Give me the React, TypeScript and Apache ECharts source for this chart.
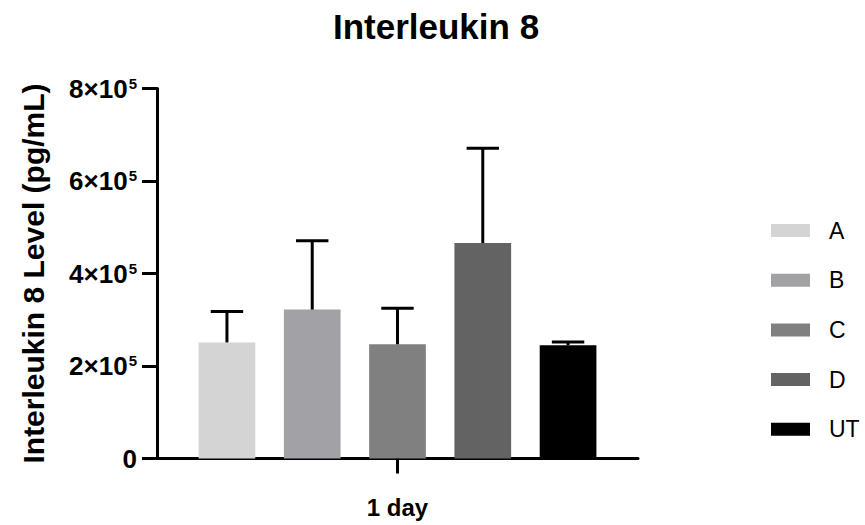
import React, { useEffect, useRef } from "react";
import * as echarts from "echarts";

const CATEGORIES = ["1 day"];
const SERIES_NAMES = ["A", "B", "C", "D", "UT"];
const MEANS = [251000, 322000, 247000, 466000, 245000];
const UPPER = [318000, 471000, 325000, 671000, 252000];
const COLORS = ["#d4d4d4", "#a2a1a5", "#808080", "#636363", "#000000"];
const Y_TICK_VALUES = [0, 200000, 400000, 600000, 800000];
const Y_TICK_LABELS = ["0", "2×10^5", "4×10^5", "6×10^5", "8×10^5"];

const FONT = "'Liberation Sans', Arial, Helvetica, sans-serif";
const BAR_WIDTH = 56.7;
const BAR_GAP = 0.504;

export default function App() {
  const ref = useRef<HTMLDivElement>(null);
  useEffect(() => {
    document.body.style.margin = "0";
    if (!ref.current) return;
    const chart = echarts.init(ref.current, null, { renderer: "svg" });
    const step = BAR_WIDTH * (1 + BAR_GAP);
    const mid = (SERIES_NAMES.length - 1) / 2;

    const barSeries = SERIES_NAMES.map((name, i) => ({
      name,
      type: "bar",
      data: [MEANS[i]],
      barWidth: BAR_WIDTH,
      barGap: `${BAR_GAP * 100}%`,
      itemStyle: { color: COLORS[i] },
      z: 2,
    }));

    const errData = SERIES_NAMES.map((_, i) => [0, UPPER[i], MEANS[i], i]);

    const option: any = {
      animation: false,
      textStyle: { fontFamily: FONT },
      title: {
        text: "Interleukin 8",
        left: 436,
        top: 9,
        padding: 0,
        textAlign: "center",
        textStyle: { fontFamily: FONT, fontSize: 35, fontWeight: "bold", color: "#000" },
      },
      legend: {
        data: SERIES_NAMES,
        orient: "vertical",
        left: 766,
        top: 214,
        itemWidth: 39,
        itemHeight: 13,
        itemGap: 26.7,
        icon: "rect",
        textStyle: {
          fontFamily: FONT,
          fontSize: 23,
          lineHeight: 23,
          color: "#000",
          padding: [0, 0, 0, 14],
        },
      },
      grid: { left: 157, right: 227, top: 88.5, bottom: 66.5, containLabel: false },
      xAxis: {
        type: "category",
        data: CATEGORIES,
        axisLine: { lineStyle: { color: "#000", width: 3 } },
        axisTick: { show: false },
        axisLabel: {
          margin: 37,
          fontFamily: FONT,
          fontSize: 24,
          fontWeight: "bold",
          color: "#000",
        },
      },
      yAxis: {
        type: "value",
        min: 0,
        max: 800000,
        interval: 200000,
        name: "Interleukin 8 Level (pg/mL)",
        nameLocation: "middle",
        nameGap: 109,
        nameTextStyle: { fontFamily: FONT, fontSize: 30, fontWeight: "bold", color: "#000" },
        splitLine: { show: false },
        axisLine: { show: true, lineStyle: { color: "#000", width: 3 } },
        axisTick: { show: true, length: 15, lineStyle: { color: "#000", width: 3 } },
        axisLabel: {
          margin: 20,
          color: "#000",
          formatter: (v: number) => {
            const idx = Y_TICK_VALUES.indexOf(v);
            const lbl = idx >= 0 ? Y_TICK_LABELS[idx] : String(v);
            const parts = lbl.split("^");
            if (parts.length === 2) return `{b|${parts[0]}}{s|${parts[1]}}`;
            return `{b|${lbl}}`;
          },
          rich: {
            b: { fontFamily: FONT, fontSize: 26, fontWeight: "bold", color: "#000" },
            s: {
              fontFamily: FONT,
              fontSize: 15,
              fontWeight: "bold",
              color: "#000",
              verticalAlign: "top",
              padding: [0, 0, 0, 1],
            },
          },
        },
      },
      series: [
        ...barSeries,
        {
          name: "err",
          type: "custom",
          z: 5,
          data: errData,
          encode: { x: 0, y: 1 },
          renderItem: (_params: any, api: any) => {
            const idx = api.value(3);
            const top = api.coord([0, api.value(1)]);
            const base = api.coord([0, api.value(2)]);
            const x = top[0] + (idx - mid) * step;
            const half = 16.2;
            return {
              type: "group",
              children: [
                {
                  type: "line",
                  shape: { x1: x, y1: base[1], x2: x, y2: top[1] },
                  style: { stroke: "#000", lineWidth: 3 },
                },
                {
                  type: "line",
                  shape: { x1: x - half, y1: top[1], x2: x + half, y2: top[1] },
                  style: { stroke: "#000", lineWidth: 3 },
                },
              ],
            };
          },
        },
        {
          name: "xtick",
          type: "custom",
          z: 5,
          clip: false,
          data: [[0, 0]],
          encode: { x: 0, y: 1 },
          renderItem: (_params: any, api: any) => {
            const p = api.coord([api.value(0), api.value(1)]);
            return {
              type: "line",
              shape: { x1: p[0], y1: p[1], x2: p[0], y2: p[1] + 15 },
              style: { stroke: "#000", lineWidth: 3 },
            };
          },
        },
      ],
    };
    chart.setOption(option);
    return () => chart.dispose();
  }, []);
  return <div ref={ref} style={{ width: 865, height: 525 }} />;
}
